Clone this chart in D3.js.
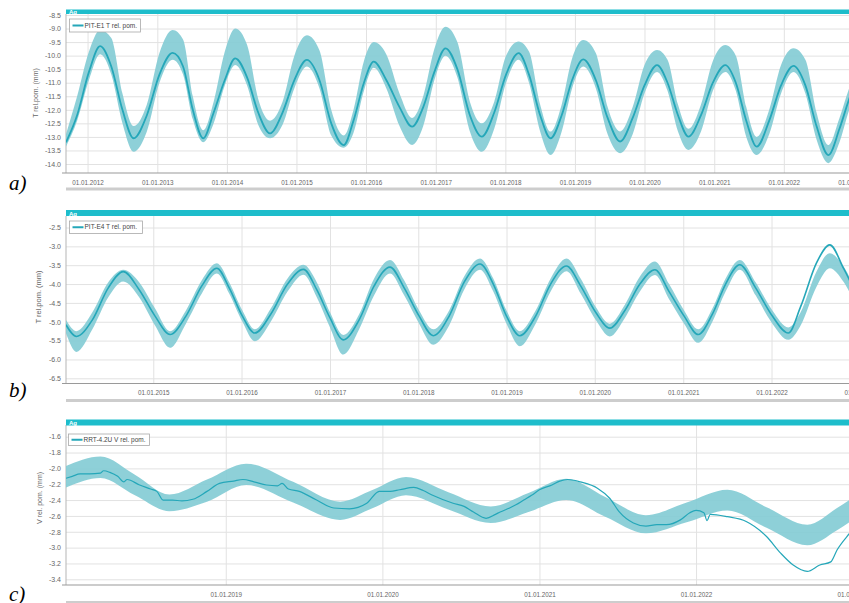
<!DOCTYPE html>
<html><head><meta charset="utf-8">
<script src="https://cdn.jsdelivr.net/npm/d3@7"></script>
<style>
body{margin:0;background:#fff}
svg{display:block}
text{font-family:"Liberation Sans",Arial,sans-serif}
</style>
</head><body>
<svg id="chart" width="849" height="603"></svg>
<script>
// ---------- Panel a: PIT-E1 T rel. pom. ----------
const tA = [2011.69, 2011.85, 2012.02, 2012.18, 2012.34, 2012.50, 2012.66,
  2012.85, 2013.03, 2013.22, 2013.37, 2013.51, 2013.66,
  2013.81, 2013.97, 2014.12, 2014.29, 2014.45, 2014.62,
  2014.80, 2014.97, 2015.15, 2015.33, 2015.50, 2015.68,
  2015.82, 2015.97, 2016.11, 2016.29, 2016.48, 2016.66,
  2016.82, 2016.98, 2017.14, 2017.31, 2017.49, 2017.66,
  2017.84, 2018.01, 2018.19, 2018.34, 2018.50, 2018.65,
  2018.81, 2018.96, 2019.12, 2019.30, 2019.47, 2019.65,
  2019.83, 2020.00, 2020.18, 2020.33, 2020.48, 2020.63,
  2020.81, 2020.98, 2021.16, 2021.31, 2021.46, 2021.61,
  2021.79, 2021.96, 2022.14, 2022.31, 2022.47, 2022.64,
  2022.80, 2022.94, 2023.05];
const valA = [-13.2, -12.2, -10.6, -9.65, -10.4, -12.0, -13.05,
  -12.2, -10.7, -9.9, -10.4, -12.0, -13.05,
  -12.1, -10.9, -10.1, -10.8, -12.1, -12.87,
  -12.1, -10.9, -10.16, -10.9, -12.5, -13.3,
  -12.4, -11.0, -10.22, -10.9, -11.9, -12.62,
  -11.9, -10.6, -9.73, -10.5, -12.2, -12.99,
  -12.1, -10.7, -9.91, -10.7, -12.2, -13.05,
  -12.2, -10.9, -10.14, -10.9, -12.3, -13.17,
  -12.3, -11.1, -10.35, -11.0, -12.2, -12.99,
  -12.2, -11.0, -10.35, -11.0, -12.4, -13.36,
  -12.4, -11.1, -10.38, -11.1, -12.6, -13.67,
  -12.7, -11.6, -10.9];
const hiA = [-12.9, -11.5, -9.85, -9.05, -9.35, -11.4, -12.6,
  -11.8, -9.9, -9.05, -9.4, -11.5, -12.75,
  -11.7, -9.85, -9.0, -9.6, -11.6, -12.4,
  -11.7, -10.0, -9.25, -9.8, -12.0, -12.95,
  -12.0, -10.2, -9.5, -9.95, -11.4, -12.3,
  -11.5, -9.75, -8.93, -9.5, -11.7, -12.5,
  -11.7, -10.0, -9.48, -9.85, -11.8, -12.8,
  -11.8, -10.1, -9.42, -9.9, -11.9, -12.8,
  -11.9, -10.35, -9.79, -10.15, -11.8, -12.7,
  -11.8, -10.2, -9.61, -10.0, -11.9, -13.0,
  -12.0, -10.35, -9.73, -10.15, -12.1, -13.3,
  -12.3, -11.2, -10.5];
const loA = [-13.35, -12.4, -10.9, -9.95, -10.7, -12.5, -13.55,
  -12.8, -11.0, -10.15, -10.7, -12.35, -13.2,
  -12.5, -11.1, -10.35, -11.1, -12.55, -13.05,
  -12.55, -11.2, -10.4, -11.2, -12.95, -13.4,
  -12.85, -11.3, -10.45, -11.2, -12.6, -13.3,
  -12.6, -10.9, -10.0, -10.8, -12.8, -13.55,
  -12.7, -11.0, -10.15, -11.0, -12.8, -13.67,
  -12.8, -11.2, -10.4, -11.2, -12.9, -13.6,
  -12.9, -11.4, -10.6, -11.3, -12.8, -13.48,
  -12.8, -11.3, -10.6, -11.3, -13.0, -13.67,
  -12.9, -11.4, -10.6, -11.4, -13.1, -13.97,
  -13.2, -12.0, -11.3];
const yTicksA = [-14.0, -13.5, -13.0, -12.5, -12.0, -11.5, -11.0, -10.5, -10.0, -9.5, -9.0, -8.5];
const xTicksA = [2012, 2013, 2014, 2015, 2016, 2017, 2018, 2019, 2020, 2021, 2022, 2023];

// ---------- Panel b: PIT-E4 T rel. pom. ----------
const tB = [2014.01, 2014.13, 2014.31, 2014.49, 2014.66,
  2014.84, 2015.02, 2015.19, 2015.37, 2015.55, 2015.72,
  2015.86, 2016.01, 2016.15, 2016.33, 2016.52, 2016.70,
  2016.85, 2017.00, 2017.15, 2017.33, 2017.50, 2017.68,
  2017.84, 2018.01, 2018.17, 2018.35, 2018.52, 2018.70,
  2018.85, 2019.00, 2019.15, 2019.33, 2019.50, 2019.68,
  2019.84, 2020.01, 2020.17, 2020.34, 2020.51, 2020.68,
  2020.84, 2021.01, 2021.17, 2021.33, 2021.48, 2021.64,
  2021.82, 2022.01, 2022.19, 2022.33, 2022.51, 2022.66,
  2022.82, 2022.95, 2023.05];
const valB = [-5.08, -5.39, -4.95, -4.10, -3.67,
  -4.15, -4.85, -5.34, -4.85, -4.05, -3.58,
  -4.10, -4.85, -5.30, -4.80, -4.00, -3.61,
  -4.15, -4.90, -5.48, -4.95, -4.05, -3.55,
  -4.10, -4.85, -5.37, -4.85, -3.95, -3.47,
  -4.00, -4.85, -5.37, -4.85, -4.00, -3.52,
  -4.05, -4.75, -5.17, -4.70, -4.00, -3.62,
  -4.20, -4.85, -5.34, -4.80, -4.00, -3.49,
  -4.10, -4.85, -5.30, -4.60, -3.44, -2.96,
  -3.60, -4.20, -4.60];
const hiB = [-4.95, -5.25, -4.75, -3.95, -3.62,
  -3.95, -4.65, -5.25, -4.70, -3.90, -3.45,
  -3.95, -4.70, -5.20, -4.65, -3.85, -3.49,
  -3.95, -4.75, -5.35, -4.80, -3.85, -3.36,
  -3.90, -4.70, -5.20, -4.70, -3.80, -3.32,
  -3.85, -4.70, -5.25, -4.70, -3.85, -3.32,
  -3.85, -4.60, -5.05, -4.55, -3.80, -3.40,
  -4.00, -4.70, -5.20, -4.65, -3.85, -3.36,
  -3.95, -4.70, -5.15, -4.75, -3.67, -3.18,
  -3.55, -4.10, -4.40];
const loB = [-5.30, -5.80, -5.20, -4.35, -3.93,
  -4.35, -5.10, -5.69, -5.05, -4.25, -3.72,
  -4.25, -5.00, -5.52, -5.00, -4.20, -3.75,
  -4.35, -5.15, -5.87, -5.20, -4.30, -3.72,
  -4.30, -5.05, -5.61, -5.10, -4.15, -3.62,
  -4.20, -5.05, -5.65, -5.05, -4.20, -3.66,
  -4.25, -4.95, -5.39, -4.90, -4.20, -3.76,
  -4.40, -5.05, -5.56, -5.00, -4.20, -3.62,
  -4.30, -5.05, -5.48, -5.10, -4.07, -3.58,
  -3.95, -4.50, -4.80];
const yTicksB = [-6.5, -6.0, -5.5, -5.0, -4.5, -4.0, -3.5, -3.0, -2.5];
const xTicksB = [2015, 2016, 2017, 2018, 2019, 2020, 2021, 2022, 2023];

// ---------- Panel c: RRT-4.2U V rel. pom. ----------
const tC = [2017.98, 2018.02, 2018.07, 2018.13, 2018.20, 2018.22, 2018.26, 2018.31,
  2018.35, 2018.37, 2018.45, 2018.52, 2018.56, 2018.60, 2018.66, 2018.72, 2018.79,
  2018.88, 2018.96, 2019.05, 2019.11, 2019.18, 2019.26, 2019.33, 2019.36, 2019.40,
  2019.47, 2019.58, 2019.69, 2019.79, 2019.90, 2019.98, 2020.05, 2020.11, 2020.20,
  2020.26, 2020.32, 2020.45, 2020.52, 2020.58, 2020.66, 2020.72, 2020.75, 2020.81,
  2020.85, 2020.90, 2020.95, 2021.00, 2021.08, 2021.13, 2021.18, 2021.22, 2021.26,
  2021.37, 2021.45, 2021.51, 2021.60, 2021.68, 2021.75, 2021.81, 2021.90, 2021.96,
  2022.00, 2022.05, 2022.07, 2022.09, 2022.20, 2022.32, 2022.45, 2022.54, 2022.62,
  2022.71, 2022.79, 2022.86, 2022.90, 2022.98, 2023.03];
const valC = [-2.125, -2.10, -2.07, -2.07, -2.06, -2.03, -2.05, -2.10,
  -2.17, -2.14, -2.21, -2.26, -2.29, -2.40, -2.40, -2.41, -2.39,
  -2.29, -2.19, -2.16, -2.14, -2.17, -2.21, -2.22, -2.19, -2.26,
  -2.29, -2.40, -2.50, -2.51, -2.44, -2.29, -2.29, -2.27, -2.24,
  -2.28, -2.34, -2.44, -2.48, -2.55, -2.63, -2.58, -2.55, -2.50,
  -2.46, -2.40, -2.34, -2.27, -2.21, -2.16, -2.14, -2.15, -2.17,
  -2.25, -2.38, -2.55, -2.69, -2.73, -2.71, -2.71, -2.65, -2.56,
  -2.53, -2.56, -2.66, -2.58, -2.61, -2.67, -2.86, -3.07, -3.22,
  -3.30, -3.22, -3.18, -3.03, -2.82, -2.70];
const tCband = [2017.98, 2018.20, 2018.42, 2018.64, 2018.88, 2019.13, 2019.43, 2019.73,
  2019.94, 2020.15, 2020.42, 2020.69, 2020.93, 2021.17, 2021.42, 2021.68, 2021.94,
  2022.20, 2022.45, 2022.71, 2022.90, 2023.05];
const hiC = [-1.97, -1.85, -2.08, -2.33, -2.14, -1.94, -2.17, -2.42,
  -2.27, -2.11, -2.30, -2.48, -2.31, -2.13, -2.36, -2.59, -2.43,
  -2.27, -2.49, -2.71, -2.50, -2.30];
const loC = [-2.24, -2.12, -2.34, -2.54, -2.42, -2.21, -2.43, -2.65,
  -2.50, -2.34, -2.52, -2.69, -2.55, -2.40, -2.61, -2.82, -2.68,
  -2.53, -2.75, -2.97, -2.78, -2.58];
const yTicksC = [-3.4, -3.2, -3.0, -2.8, -2.6, -2.4, -2.2, -2.0, -1.8, -1.6];
const xTicksC = [2019, 2020, 2021, 2022, 2023];

// ---------- drawing ----------
const svg = d3.select('#chart');
const LINE = '#25a7b9', BAND = '#82cbd4', HEAD = '#1ebdcb';
function dy(y){
  const yr = Math.floor(y);
  const s = Date.UTC(yr,0,1), e = Date.UTC(yr+1,0,1);
  return new Date(s + (y-yr)*(e-s));
}
const fmt = d3.utcFormat('%d.%m.%Y');
let clipId = 0;

function panel(c){
  const g = svg.append('g');
  const L = 66, R = 900, W = 849;
  const x = d3.scaleUtc().domain([dy(c.x0), dy(c.x1)]).range([L, R]);
  const y = d3.scaleLinear().domain(c.yDom).range(c.yRng);

  const ya = g.append('g').attr('transform', `translate(${L},0)`)
    .call(d3.axisLeft(y).tickValues(c.yTicks).tickSize(-(W-L)).tickPadding(5)
      .tickFormat(d => d.toFixed(1)));
  ya.select('.domain').remove();
  ya.selectAll('line').attr('stroke', '#e2e2e2');
  ya.selectAll('text').attr('fill', '#666').style('font-size', '7px');

  const xa = g.append('g').attr('transform', `translate(0,${c.bottom})`)
    .call(d3.axisBottom(x).tickValues(c.xTicks.map(v => dy(v))).tickSize(-(c.bottom-c.top))
      .tickPadding(c.xPad).tickFormat(fmt));
  xa.select('.domain').remove();
  xa.selectAll('line').attr('stroke', '#e2e2e2');
  xa.selectAll('text').attr('fill', '#666').style('font-size', '6.3px');

  g.append('line').attr('x1', L).attr('x2', L).attr('y1', c.top).attr('y2', c.bottom)
    .attr('stroke', '#b5b5b5');
  g.append('line').attr('x1', L-4).attr('x2', W).attr('y1', c.bottom).attr('y2', c.bottom)
    .attr('stroke', '#9a9a9a').attr('stroke-width', 1.2);

  const id = 'clip' + (clipId++);
  g.append('clipPath').attr('id', id).append('rect')
    .attr('x', L).attr('y', c.top).attr('width', R-L).attr('height', c.bottom-c.top);
  const d = g.append('g').attr('clip-path', `url(#${id})`);

  const bandData = c.tBand.map((t,i) => ({t, lo: c.lo[i], hi: c.hi[i]}));
  d.append('path').datum(bandData)
    .attr('d', d3.area().curve(d3.curveMonotoneX)
      .x(p => x(dy(p.t))).y0(p => y(p.lo)).y1(p => y(p.hi)))
    .attr('fill', BAND).attr('opacity', 0.9);
  const lineData = c.t.map((t,i) => ({t, v: c.v[i]}));
  d.append('path').datum(lineData)
    .attr('d', d3.line().curve(d3.curveMonotoneX).x(p => x(dy(p.t))).y(p => y(p.v)))
    .attr('fill', 'none').attr('stroke', LINE).attr('stroke-width', c.lw)
    .attr('stroke-linejoin', 'round');

  g.append('rect').attr('x', L).attr('y', c.head).attr('width', W-L).attr('height', c.headH)
    .attr('fill', HEAD);
  g.append('text').attr('x', L+3).attr('y', c.head+c.headH-0.5).text('Ag')
    .attr('fill', '#fff').style('font-size', '6px').style('font-weight', 'bold');

  g.append('rect').attr('x', c.leg[0]).attr('y', c.leg[1]).attr('width', c.leg[2]).attr('height', c.leg[3])
    .attr('fill', '#fff').attr('stroke', '#a8a8a8').attr('stroke-width', 0.8);
  const ly = c.leg[1] + c.leg[3]/2;
  g.append('line').attr('x1', c.leg[0]+3).attr('x2', c.leg[0]+14).attr('y1', ly).attr('y2', ly)
    .attr('stroke', LINE).attr('stroke-width', 2);
  g.append('text').attr('x', c.leg[0]+15).attr('y', ly+2.2).text(c.name)
    .attr('fill', '#444').style('font-size', '6.5px');

  g.append('text').attr('transform', `translate(${c.titleX},${c.titleY}) rotate(-90)`)
    .attr('text-anchor', 'middle').text(c.title).attr('fill', '#666')
    .style('font-size', c.titleSize);

  g.append('rect').attr('x', L).attr('y', c.bar).attr('width', W-L).attr('height', 3)
    .attr('fill', '#cdcdcd');

  g.append('text').attr('x', c.letter[0]).attr('y', c.letter[1]).text(c.letterText)
    .style('font-family', '"Liberation Serif","Times New Roman",serif')
    .style('font-style', 'italic').style('font-size', '21px').attr('fill', '#000');
}

panel({x0: 2011.69, x1: 2023.67, yDom: [-14, -8.5], yRng: [164, 15],
  top: 14, bottom: 173, xPad: 8, head: 9.5, headH: 4.5,
  t: tA, v: valA, tBand: tA, lo: loA, hi: hiA, lw: 1.8,
  yTicks: yTicksA, xTicks: xTicksA,
  leg: [69.5, 19, 71, 13], name: 'PIT-E1 T rel. pom.',
  title: 'T rel.pom. (mm)', titleX: 38, titleY: 93, titleSize: '7px',
  bar: 187.5, letter: [9, 190], letterText: 'a)'});

panel({x0: 2014.011, x1: 2023.456, yDom: [-6.5, -2.5], yRng: [378.3, 227.5],
  top: 216, bottom: 383.5, xPad: 7.5, head: 210, headH: 6,
  t: tB, v: valB, tBand: tB, lo: loB, hi: hiB, lw: 1.6,
  yTicks: yTicksB, xTicks: xTicksB,
  leg: [69.5, 221, 73, 12.5], name: 'PIT-E4 T rel. pom.',
  title: 'T rel.pom.  (mm)', titleX: 41, titleY: 297, titleSize: '7.5px',
  bar: 399, letter: [9, 397], letterText: 'b)'});

panel({x0: 2017.980, x1: 2023.302, yDom: [-3.4, -1.6], yRng: [579.3, 436.7],
  top: 425, bottom: 585, xPad: 8, head: 419.5, headH: 6,
  t: tC, v: valC, tBand: tCband, lo: loC, hi: hiC, lw: 1.2,
  yTicks: yTicksC, xTicks: xTicksC,
  leg: [68.5, 434, 81, 11.5], name: 'RRT-4.2U V rel. pom.',
  title: 'V rel.  pom.  (mm)', titleX: 42, titleY: 498, titleSize: '7px',
  bar: 601, letter: [9, 601], letterText: 'c)'});
</script>
</body></html>
